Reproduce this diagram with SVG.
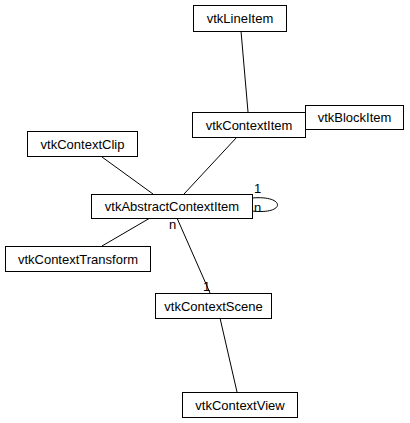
<svg xmlns="http://www.w3.org/2000/svg" width="410" height="423" viewBox="0 0 410 423">
<style>
.n rect{fill:#fff;stroke:#000;stroke-width:1}
.n text{font-family:"Liberation Sans",Arial,sans-serif;font-size:13px;fill:#000;text-anchor:middle}
.e path{fill:none;stroke:#000;stroke-width:1}
.l{font-family:"Liberation Sans",Arial,sans-serif;font-size:13px;fill:#000}
</style>
<rect width="410" height="423" fill="#fff"/>
<g class="e" id="connectors">
<path d="M241,31 L248,112"/>
<path d="M237,137 L184,194"/>
<path d="M102,157 L153,194"/>
<path d="M102,246 L150,218"/>
<path d="M177,218 L210,293"/>
<path d="M220,318 L237,392"/>
<path d="M252,198 C286,195 286,215 252,211"/>
<text class="l" x="254" y="193">1</text>
<text class="l" x="254" y="212">n</text>
<text class="l" x="169" y="229">n</text>
<text class="l" x="203" y="291">1</text>
</g>
<g class="n" id="vtkLineItem"><rect x="193.5" y="5.5" width="93" height="26"/><text x="240" y="23">vtkLineItem</text></g>
<g class="n" id="vtkContextItem"><rect x="192.5" y="112.5" width="113" height="25"/><text x="249" y="129.5">vtkContextItem</text></g>
<g class="n" id="vtkBlockItem"><rect x="305.5" y="105.5" width="98" height="24"/><text x="354.5" y="122">vtkBlockItem</text></g>
<g class="n" id="vtkContextClip"><rect x="27.5" y="131.5" width="110" height="25"/><text x="82.5" y="148.5">vtkContextClip</text></g>
<g class="n" id="vtkAbstractContextItem"><rect x="91.5" y="194.5" width="161" height="24"/><text x="172" y="211">vtkAbstractContextItem</text></g>
<g class="n" id="vtkContextTransform"><rect x="5.5" y="246.5" width="145" height="25"/><text x="78" y="263.5">vtkContextTransform</text></g>
<g class="n" id="vtkContextScene"><rect x="155.5" y="293.5" width="116" height="25"/><text x="213.5" y="310.5">vtkContextScene</text></g>
<g class="n" id="vtkContextView"><rect x="182.5" y="392.5" width="115" height="25"/><text x="240" y="409.5">vtkContextView</text></g>
</svg>
